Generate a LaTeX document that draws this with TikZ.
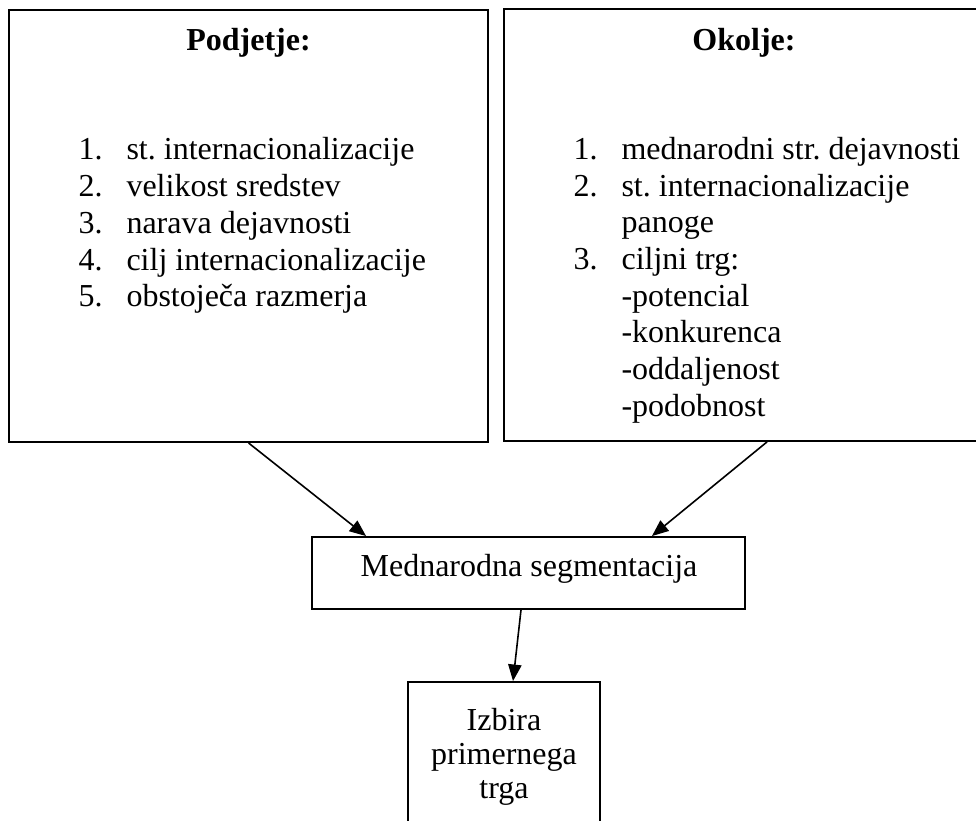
\documentclass[tikz,border=0pt]{standalone}
\usepackage{fontspec}
\setmainfont{Liberation Serif}
\usetikzlibrary{arrows.meta}
\newcommand\pxu{0.375pt}
\frenchspacing
\begin{document}
\begin{tikzpicture}[x=0.375pt,y=-0.375pt,
  every node/.style={font=\fontsize{12pt}{13.8pt}\selectfont, inner sep=0pt},
  frame/.style={draw=black, line width=0.7pt, fill=none},
  txt/.style={anchor=base west},
  ctr/.style={anchor=base},
  conn/.style={draw=black, line width=0.6pt, -{Triangle[length=6.2pt,width=5pt]}}]
\useasboundingbox (0,0) rectangle (976,821);
\clip (0,0) rectangle (976,821);
\fill[white] (0,0) rectangle (976,821);
% boxes
\node[frame, minimum width=479*\pxu, minimum height=432*\pxu] (pod) at (248.5,226) {};
\node[frame, minimum width=480*\pxu, minimum height=432*\pxu] (oko) at (744,225) {};
\node[frame, minimum width=433*\pxu, minimum height=72*\pxu] (med) at (528.5,573) {};
\node[frame, minimum width=192*\pxu, minimum height=170*\pxu] (izb) at (504,767) {};
% left box text
\node[ctr, font=\fontsize{12pt}{13.8pt}\selectfont\bfseries] (podt) at (248.5,51) {Podjetje:};
\node[txt] (p1n) at (78,160) {1.};
\node[txt] (p1) at (126,160) {st. internacionalizacije};
\node[txt] (p2n) at (78,196.7) {2.};
\node[txt] (p2) at (126,196.7) {velikost sredstev};
\node[txt] (p3n) at (78,233.4) {3.};
\node[txt] (p3) at (126,233.4) {narava dejavnosti};
\node[txt] (p4n) at (78,270.1) {4.};
\node[txt] (p4) at (126,270.1) {cilj internacionalizacije};
\node[txt] (p5n) at (78,306.8) {5.};
\node[txt] (p5) at (126,306.8) {obstoječa razmerja};
% right box text
\node[ctr, font=\fontsize{12pt}{13.8pt}\selectfont\bfseries] (okot) at (744,51) {Okolje:};
\node[txt] (o1n) at (573,159.5) {1.};
\node[txt] (o1) at (621,159.5) {mednarodni str. dejavnosti};
\node[txt] (o2n) at (573,196.2) {2.};
\node[txt] (o2) at (621,196.2) {st. internacionalizacije};
\node[txt] (o2b) at (621,232.9) {panoge};
\node[txt] (o3n) at (573,269.6) {3.};
\node[txt] (o3) at (621,269.6) {ciljni trg:};
\node[txt] (o3a) at (621,306.3) {-potencial};
\node[txt] (o3b) at (621,343.0) {-konkurenca};
\node[txt] (o3c) at (621,379.7) {-oddaljenost};
\node[txt] (o3d) at (621,416.4) {-podobnost};
% middle and bottom text
\node[ctr] (medt) at (529,577) {Mednarodna segmentacija};
\node[ctr] (iz1) at (504,730) {Izbira};
\node[ctr] (iz2) at (504,764) {primernega};
\node[ctr] (iz3) at (504,798) {trga};
% connectors
\draw[conn] (pod.south) -- ([xshift=55*\pxu]med.north west);
\draw[conn] ([xshift=23*\pxu]oko.south) -- ([xshift=-94*\pxu]med.north east);
\draw[conn] ([xshift=-7.5*\pxu]med.south) -- ([xshift=9*\pxu]izb.north);
\end{tikzpicture}
\end{document}
